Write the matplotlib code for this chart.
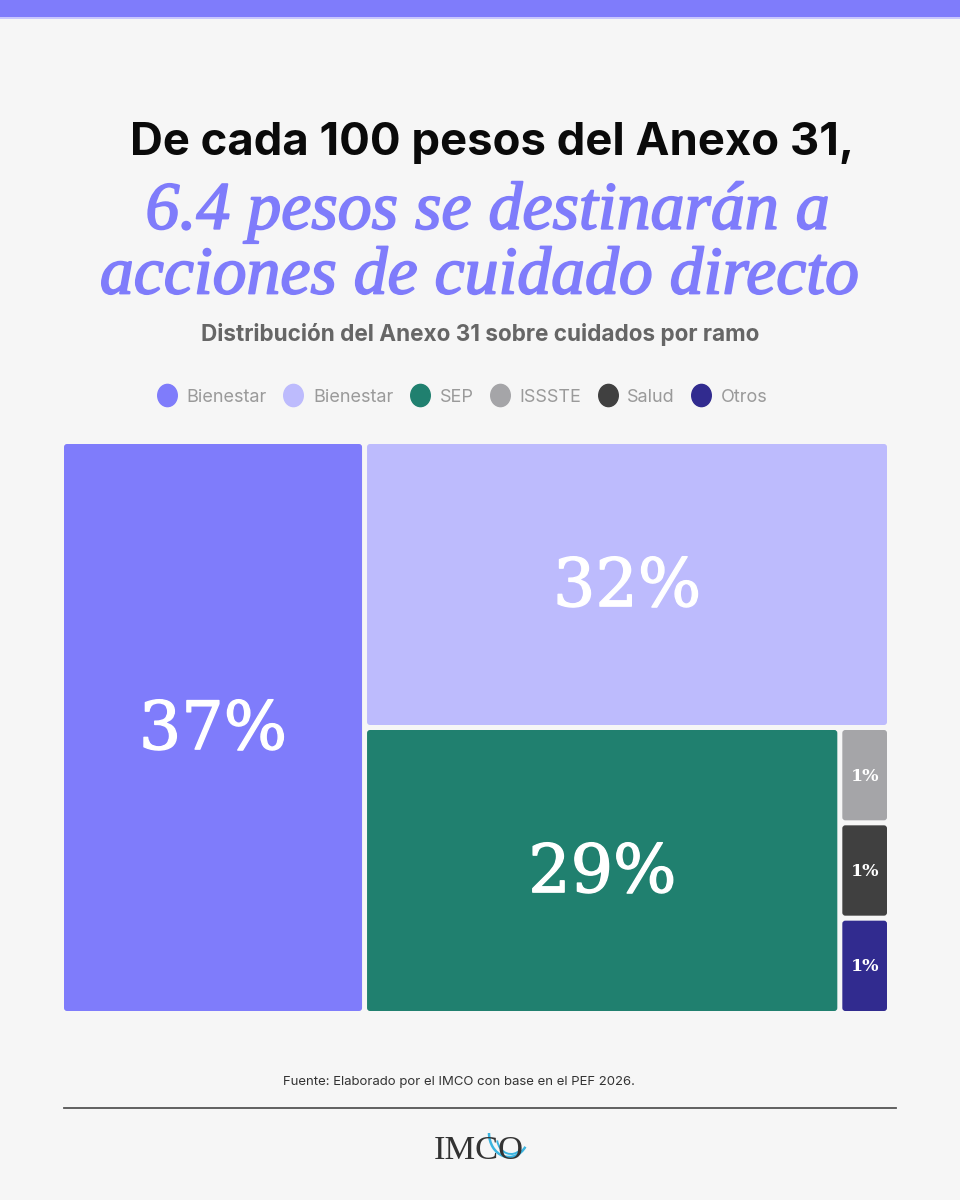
import matplotlib
matplotlib.use("Agg")
import matplotlib.pyplot as plt
from matplotlib.patches import FancyBboxPatch, Rectangle, Arc
from matplotlib.lines import Line2D
from matplotlib.path import Path
from matplotlib.transforms import Affine2D
import matplotlib.patheffects as pe

# ---------------- data ----------------
ramos = ["Bienestar", "Bienestar", "SEP", "ISSSTE", "Salud", "Otros"]
shares = [36.6, 31.7, 28.7, 1.0, 1.0, 1.0]
share_labels = ["37%", "32%", "29%", "1%", "1%", "1%"]
colors = ["#7f7cfb", "#bdbbfd", "#20806f", "#a5a5a8", "#404040", "#312b8f"]

title1 = "De cada 100 pesos del Anexo 31,"
title2 = "6.4 pesos se destinarán a"
title3 = "acciones de cuidado directo"
subtitle = "Distribución del Anexo 31 sobre cuidados por ramo"
source = "Fuente: Elaborado por el IMCO con base en el PEF 2026."

BG = "#f6f6f6"
FW, FH = 960, 1200
fig = plt.figure(figsize=(9.6, 12), dpi=100, facecolor=BG)
bg = fig.add_axes([0, 0, 1, 1])
bg.set_xlim(0, FW)
bg.set_ylim(FH, 0)
bg.axis("off")
bg.set_facecolor(BG)

renderer = fig.canvas.get_renderer()

def fit(t, target_w):
    bb = t.get_window_extent(renderer)
    t.set_fontsize(t.get_fontsize() * target_w / bb.width)

# top bar
bg.add_patch(Rectangle((0, 0), FW, 17, color="#7f7cfb", lw=0))
bg.add_patch(Rectangle((0, 17), FW, 2, color="#c9c7fe", lw=0))

# titles
t1 = bg.text(492, 143, title1, ha="center", va="center", fontsize=36,
             fontweight="bold", family="Inter", color="#0a0a0a")
fit(t1, 725)
thick = [pe.withStroke(linewidth=1.3, foreground="#7f7cfb")]
t2 = bg.text(488, 212, title2, ha="center", va="center", fontsize=46,
             style="italic", family="Liberation Serif", color="#7f7cfb",
             path_effects=thick)
fit(t2, 685)
t3 = bg.text(480, 277, title3, ha="center", va="center", fontsize=46,
             style="italic", family="Liberation Serif", color="#7f7cfb",
             path_effects=thick)
fit(t3, 760)
t4 = bg.text(480, 335, subtitle, ha="center", va="center", fontsize=15,
             fontweight="bold", family="Inter", color="#666666")
fit(t4, 560)

# legend (tall oval markers)
circ = Path.unit_circle()
oval = Path(Affine2D().scale(0.88, 1.0).transform(circ.vertices), circ.codes)
handles = [Line2D([], [], marker=oval, linestyle="none", markersize=16,
                  markerfacecolor=c, markeredgecolor=c) for c in colors]
leg = bg.legend(handles, ramos, loc="center", bbox_to_anchor=(462 / FW, 1 - 397 / FH),
                bbox_transform=fig.transFigure, ncol=6, frameon=False,
                handletextpad=0.5, columnspacing=0.85,
                handlelength=1.2, prop={"family": "Inter", "size": 13})
for txt in leg.get_texts():
    txt.set_color("#9a9a9a")

# treemap
X0, Y0, X1, Y1 = 64, 444, 892, 1016
GAP = 5
tm = fig.add_axes([X0 / FW, 1 - Y1 / FH, (X1 - X0) / FW, (Y1 - Y0) / FH])
W, H = X1 - X0, Y1 - Y0
tm.set_xlim(0, W)
tm.set_ylim(H, 0)
tm.axis("off")

total = sum(shares)
rects = []
w0 = W * shares[0] / total
rects.append((0, 0, w0, H))
rest = total - shares[0]
RW = W - w0
h1 = H * shares[1] / rest
rects.append((w0, 0, RW, h1))
BH = H - h1
btot = sum(shares[2:])
w2 = RW * shares[2] / btot
rects.append((w0, h1, w2, BH))
stot = sum(shares[3:])
yy = h1
for v in shares[3:]:
    hh = BH * v / stot
    rects.append((w0 + w2, yy, RW - w2, hh))
    yy += hh

for (x, y, w, h), c, lab in zip(rects, colors, share_labels):
    tm.add_patch(FancyBboxPatch((x, y), w - GAP, h - GAP,
                                boxstyle="round,pad=0,rounding_size=3",
                                fc=c, ec="none"))
    big = w > 100
    if big:
        tm.text(x + (w - GAP) / 2, y + (h - GAP) / 2 + 3, lab, ha="center", va="center",
                color="white", family="DejaVu Serif", fontweight="normal",
                fontsize=48, path_effects=[pe.withStroke(linewidth=1.0, foreground="white")])
    else:
        tm.text(x + (w - GAP) / 2, y + (h - GAP) / 2 + 1, lab, ha="center", va="center",
                color="white", family="DejaVu Serif", fontweight="bold", fontsize=12.5)

# source and footer
ts = bg.text(459, 1082, source, ha="center", va="center", fontsize=10,
             family="Inter", color="#333333")
fit(ts, 354)
bg.plot([64, 896], [1108, 1108], color="#555555", lw=1.3)

# logo
tl = bg.text(479, 1151, "IMCO", ha="center", va="center", fontsize=26,
             family="Liberation Serif", color="#333333")
fit(tl, 90)
bg.add_patch(Arc((509, 1133), 40, 48, theta1=40, theta2=180, color="#3ab4e0", lw=1.8))
bg.add_patch(Arc((511, 1138), 28, 32, theta1=50, theta2=170, color="#3ab4e0", lw=1.4))

fig.savefig("out.png", dpi=100, facecolor=BG)
